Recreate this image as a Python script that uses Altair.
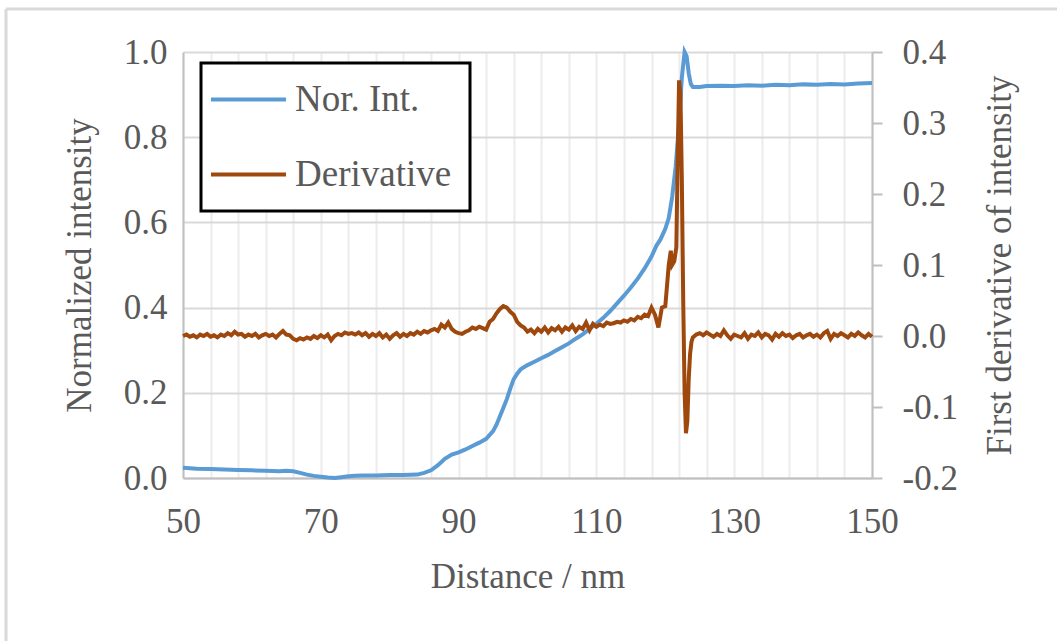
import altair as alt
import pandas as pd

# ---------------- data ----------------
nor_x = [50, 52, 54, 56, 58, 60, 62, 64, 65, 66, 67, 68, 69, 70, 71, 72, 73, 74, 75, 76,
         78, 80, 82, 84, 85, 86, 87, 88, 89, 90, 91, 92, 93, 94, 95, 95.5, 96, 96.5, 97,
         97.5, 98, 98.5, 99, 100, 101, 102, 103, 104, 105, 106, 107, 108, 109, 110, 111,
         112, 113, 114, 115, 116, 117, 118, 118.7, 119.3, 120, 120.5, 121, 121.5, 122,
         122.4, 122.8, 123.1, 123.4, 123.7, 124, 125, 126, 128, 130, 132, 134, 136, 138,
         140, 142, 144, 146, 148, 150]
nor_y = [0.024, 0.022, 0.021, 0.020, 0.019, 0.018, 0.017, 0.016, 0.017, 0.016, 0.012,
         0.008, 0.005, 0.003, 0.001, 0.000, 0.002, 0.004, 0.005, 0.006, 0.006, 0.007,
         0.007, 0.008, 0.012, 0.018, 0.030, 0.045, 0.055, 0.060, 0.067, 0.075, 0.083,
         0.092, 0.110, 0.125, 0.145, 0.165, 0.185, 0.210, 0.232, 0.245, 0.255, 0.265,
         0.273, 0.281, 0.289, 0.298, 0.307, 0.316, 0.327, 0.337, 0.350, 0.362, 0.376,
         0.392, 0.410, 0.428, 0.447, 0.468, 0.492, 0.520, 0.545, 0.560, 0.585, 0.610,
         0.660, 0.730, 0.830, 0.940, 1.000, 0.990, 0.950, 0.925, 0.918, 0.918, 0.920,
         0.921, 0.920, 0.922, 0.921, 0.923, 0.922, 0.924, 0.923, 0.925, 0.924, 0.926,
         0.927]

der_x = [50.0, 50.5, 51.0, 51.5, 52.0, 52.5, 53.0, 53.5, 54.0, 54.5, 55.0, 55.5, 56.0,
         56.5, 57.0, 57.5, 58.0, 58.5, 59.0, 59.5, 60.0, 60.5, 61.0, 61.5, 62.0, 62.5,
         63.0, 63.5, 64.0, 64.5, 65.0, 65.5, 66.0, 66.5, 67.0, 67.5, 68.0, 68.5, 69.0,
         69.5, 70.0, 70.5, 71.0, 71.5, 72.0, 72.5, 73.0, 73.5, 74.0, 74.5, 75.0, 75.5,
         76.0, 76.5, 77.0, 77.5, 78.0, 78.5, 79.0, 79.5, 80.0, 80.5, 81.0, 81.5, 82.0,
         82.5, 83.0, 83.5, 84.0, 84.5, 85.0, 85.5, 86.0, 86.5, 87.0, 87.5, 88.0, 88.5,
         89.0, 89.5, 90.0, 90.5, 91.0, 91.5, 92.0, 92.5, 93.0, 93.5, 94.0, 94.5, 95.0,
         95.5, 96.0, 96.5, 97.0, 97.5, 98.0, 98.5, 99.0, 99.5, 100.0, 100.5, 101.0,
         101.5, 102.0, 102.5, 103.0, 103.5, 104.0, 104.5, 105.0, 105.5, 106.0, 106.5,
         107.0, 107.5, 108.0, 108.5, 109.0, 109.5, 110.0, 110.5, 111.0, 111.5, 112.0,
         112.5, 113.0, 113.5, 114.0, 114.5, 115.0, 115.5, 116.0, 116.5, 117.0, 117.5,
         118.0, 118.5, 119.0, 119.5, 120.0, 120.5, 120.8, 121.0, 121.3, 121.6, 121.8,
         122.0, 122.2, 122.4, 122.6, 122.8, 123.0, 123.2, 123.4, 123.6, 123.8, 124.0,
         124.5, 125.0, 125.5, 126.0, 126.5, 127.0, 127.5, 128.0, 128.5, 129.0, 129.5,
         130.0, 130.5, 131.0, 131.5, 132.0, 132.5, 133.0, 133.5, 134.0, 134.5, 135.0,
         135.5, 136.0, 136.5, 137.0, 137.5, 138.0, 138.5, 139.0, 139.5, 140.0, 140.5,
         141.0, 141.5, 142.0, 142.5, 143.0, 143.5, 144.0, 144.5, 145.0, 145.5, 146.0,
         146.5, 147.0, 147.5, 148.0, 148.5, 149.0, 149.5, 150.0]
der_y = [0.000, 0.002, -0.001, 0.001, -0.002, 0.002, 0.000, 0.003, -0.001, 0.001, -0.002,
         0.002, 0.000, 0.004, 0.001, 0.006, 0.002, 0.003, -0.001, 0.002, 0.000, 0.003,
         -0.002, 0.001, 0.003, 0.000, 0.002, -0.002, 0.003, 0.007, 0.002, 0.001, -0.004,
         -0.006, -0.003, -0.005, -0.002, -0.004, 0.000, -0.003, 0.001, -0.002, 0.002,
         -0.006, 0.000, 0.003, 0.001, 0.005, 0.003, 0.004, 0.002, 0.005, 0.001, 0.004,
         -0.001, 0.003, 0.000, 0.004, -0.002, 0.002, -0.004, 0.001, 0.004, -0.001, 0.003,
         0.000, 0.004, 0.002, 0.006, 0.003, 0.007, 0.005, 0.008, 0.010, 0.007, 0.016,
         0.012, 0.019, 0.010, 0.006, 0.004, 0.003, 0.006, 0.008, 0.012, 0.010, 0.013,
         0.011, 0.009, 0.020, 0.024, 0.032, 0.038, 0.042, 0.040, 0.034, 0.030, 0.020,
         0.015, 0.012, 0.006, 0.009, 0.004, 0.010, 0.006, 0.012, 0.005, 0.011, 0.008,
         0.013, 0.006, 0.012, 0.009, 0.015, 0.007, 0.013, 0.010, 0.019, 0.008, 0.017,
         0.013, 0.016, 0.014, 0.019, 0.017, 0.018, 0.020, 0.019, 0.022, 0.020, 0.024,
         0.022, 0.027, 0.025, 0.030, 0.028, 0.040, 0.030, 0.012, 0.040, 0.042, 0.100,
         0.120, 0.100, 0.105, 0.125, 0.250, 0.360, 0.340, 0.220, 0.050, -0.080, -0.137,
         -0.120, -0.060, -0.025, -0.008, -0.002, 0.002, 0.004, 0.001, 0.005, 0.002,
         -0.001, 0.003, 0.000, 0.008, 0.001, -0.004, 0.002, 0.000, -0.002, 0.004,
         -0.004, 0.002, 0.000, 0.005, -0.002, 0.003, 0.001, -0.005, 0.003, -0.001,
         0.004, 0.000, 0.002, -0.003, 0.001, 0.003, -0.002, 0.001, 0.003, -0.001, 0.002,
         -0.002, 0.004, 0.007, -0.004, 0.003, 0.000, 0.004, 0.001, -0.002, 0.003, 0.000,
         0.005, 0.001, -0.002, 0.003, -0.001]

series_names = ["Nor. Int.", "Derivative"]
series_colors = ["#5B9BD5", "#9E480E"]
x_grid_values = list(range(50, 151, 4))
left_ticks = [0.0, 0.2, 0.4, 0.6, 0.8, 1.0]
right_ticks = [-0.2, -0.1, 0.0, 0.1, 0.2, 0.3, 0.4]

nor_df = pd.DataFrame({"x": nor_x, "v": nor_y, "series": series_names[0]})
der_df = pd.DataFrame({"x": der_x, "v": der_y, "series": series_names[1]})

FONT = "Liberation Serif"
TXT = "#595959"
FS = 35
LFS = 37

x_enc = alt.X(
    "x:Q",
    scale=alt.Scale(domain=[50, 150], nice=False, zero=False),
    axis=alt.Axis(
        values=x_grid_values,
        labelExpr="(datum.value - 50) % 20 == 0 ? datum.label : ''",
        labelOverlap=False, labelFlush=False, labelBound=False,
        grid=True, gridColor="#ececec", gridWidth=2,
        ticks=False,
        domainColor="#bfbfbf", domainWidth=2,
        labelFont=FONT, labelFontSize=FS, labelColor=TXT, labelPadding=26,
        title="Distance / nm", titleFont=FONT, titleFontSize=FS, titleColor=TXT,
        titleFontWeight="normal", titlePadding=20,
    ),
)

color_enc = alt.Color(
    "series:N",
    scale=alt.Scale(domain=series_names, range=series_colors),
    legend=alt.Legend(
        orient="none", legendX=18, legendY=11, title=None,
        symbolType="M-2.5,0H2.5", symbolSize=900, symbolStrokeWidth=4,
        symbolOffset=11,
        labelFont=FONT, labelFontSize=LFS, labelColor=TXT, labelOffset=28,
        padding=18, rowPadding=37,
        strokeColor="black", fillColor="white",
    ),
)

nor_line = alt.Chart(nor_df).mark_line(strokeWidth=4).encode(
    x=x_enc,
    y=alt.Y(
        "v:Q",
        scale=alt.Scale(domain=[0, 1], nice=False),
        axis=alt.Axis(
            orient="left", values=left_ticks, format=".1f",
            grid=True, gridColor="#d9d9d9", gridWidth=2,
            ticks=False, domainColor="#bfbfbf", domainWidth=2,
            labelFont=FONT, labelFontSize=FS, labelColor=TXT, labelPadding=16,
            title="Normalized intensity", titleFont=FONT, titleFontSize=FS,
            titleColor=TXT, titleFontWeight="normal", titlePadding=26,
        ),
    ),
    color=color_enc,
)

der_line = alt.Chart(der_df).mark_line(strokeWidth=4).encode(
    x=x_enc,
    y=alt.Y(
        "v:Q",
        scale=alt.Scale(domain=[-0.2, 0.4], nice=False, zero=False),
        axis=alt.Axis(
            orient="right", values=right_ticks, format=".1f",
            labelExpr="replace(datum.label, '\u2212', '-')",
            grid=False, ticks=True, tickSize=10, tickColor="#bfbfbf", tickWidth=2,
            domainColor="#bfbfbf", domainWidth=2,
            labelFont=FONT, labelFontSize=FS, labelColor=TXT, labelPadding=20,
            title="First derivative of intensity", titleFont=FONT, titleFontSize=FS,
            titleColor=TXT, titleFontWeight="normal", titlePadding=25,
            titleAngle=270, titleBaseline="top",
        ),
    ),
    color=color_enc,
)

border_df = pd.DataFrame({"k": [0]})
border_left = alt.Chart(border_df).mark_rule(color="#d9d9d9", strokeWidth=3).encode(
    x=alt.value(-177), y=alt.value(-43), y2=alt.value(589)
)
border_top = alt.Chart(border_df).mark_rule(color="#d9d9d9", strokeWidth=3).encode(
    x=alt.value(-177), x2=alt.value(874), y=alt.value(-43)
)

chart = (
    alt.layer(nor_line, der_line, border_left, border_top)
    .resolve_scale(y="independent")
    .properties(
        width=689, height=426,
        autosize=alt.AutoSizeParams(type="none"),
        padding={"left": 183, "top": 52, "right": 185, "bottom": 163},
        background="white",
    )
    .configure_view(stroke=None)
    .configure_legend(strokeWidth=3)
)

chart.save("out.html", embed_options={"renderer": "svg", "actions": False})
